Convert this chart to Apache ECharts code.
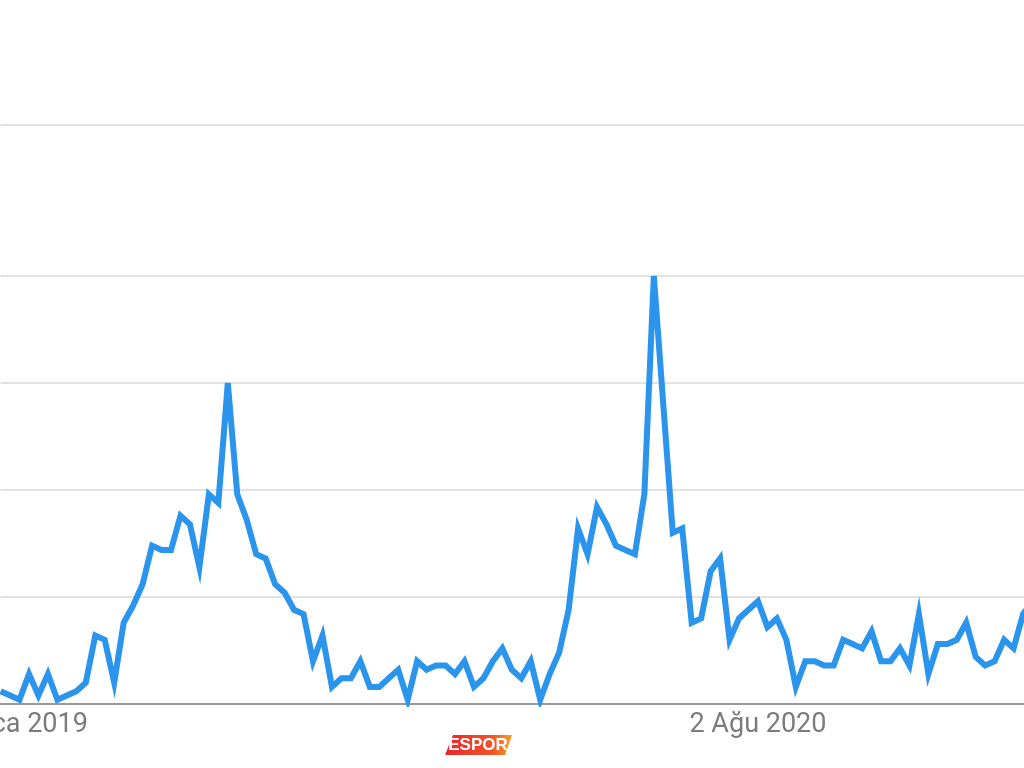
<!DOCTYPE html>
<html>
<head>
<meta charset="utf-8">
<script src="https://cdn.jsdelivr.net/npm/echarts@6/dist/echarts.min.js"></script>
<style>
  html, body { margin: 0; padding: 0; background: #ffffff; }
  #chart { width: 1024px; height: 768px; }
</style>
</head>
<body>
<div id="chart"></div>
<script>
// Weekly search interest (Google Trends style, 0-100)
const interest = [
  3, 2, 1, 7, 2, 7, 1, 2, 3, 5,
  16, 15, 5, 19, 23, 28, 37, 36, 36, 44,
  42, 32, 49, 47, 75, 49, 43, 35, 34, 28,
  26, 22, 21, 10, 16, 4, 6, 6, 10, 4,
  4, 6, 8, 1, 10, 8, 9, 9, 7, 10,
  4, 6, 10, 13, 8, 6, 10, 1, 7, 12,
  22, 41, 35, 46, 42, 37, 36, 35, 49, 100,
  70, 40, 41, 19, 20, 31, 34, 15, 20, 22,
  24, 18, 20, 15, 4, 10, 10, 9, 9, 15,
  14, 13, 17, 10, 10, 13, 9, 21, 7, 14,
  14, 15, 19, 11, 9, 10, 15, 13, 21, 24
];
// x-axis tick labels and the week index they sit under
const tickLabels = ['6 Oca 2019', '2 Ağu 2020'];
const tickIndex = [2, 80];
// horizontal guide lines (value units)
const guideValues = [25, 50, 75, 100, 135.3];

const categories = interest.map((v, i) => {
  const k = tickIndex.indexOf(i);
  return k >= 0 ? tickLabels[k] : '';
});

const chart = echarts.init(document.getElementById('chart'), null, { renderer: 'canvas' });
const step = 9.467;
chart.setOption({
  animation: false,
  backgroundColor: '#ffffff',
  grid: {
    left: 0.6, top: 0, width: step * (interest.length - 1), height: 704,
    containLabel: false, outerBoundsMode: 'none'
  },
  xAxis: {
    type: 'category',
    data: categories,
    boundaryGap: false,
    axisLine: { show: true, lineStyle: { color: '#9a9a9a', width: 2 } },
    axisTick: { show: false },
    splitLine: { show: false },
    axisLabel: {
      interval: (i) => tickIndex.includes(i),
      color: '#7b7b7b',
      fontFamily: 'Roboto',
      fontSize: 27,
      margin: 8,
      showMinLabel: true,
      hideOverlap: false
    }
  },
  yAxis: {
    type: 'value',
    min: 0,
    max: 164.5,
    show: true,
    axisLine: { show: false },
    axisTick: { show: false },
    axisLabel: { show: false },
    splitLine: { show: false }
  },
  series: [
    {
      type: 'line',
      data: interest.map(() => null),
      silent: true,
      z: 1,
      showSymbol: false,
      lineStyle: { opacity: 0 },
      markLine: {
        silent: true,
        z: 1,
        symbol: ['none', 'none'],
        label: { show: false },
        lineStyle: { color: '#e2e2e2', width: 2, type: 'solid' },
        data: guideValues.map(v => ({ yAxis: v }))
      }
    },
    {
      type: 'line',
      data: interest,
      z: 3,
      showSymbol: false,
      smooth: false,
      lineStyle: { color: '#2b94ec', width: 6, join: 'miter', cap: 'butt' }
    }
  ],
  graphic: [
    {
      type: 'polygon',
      shape: { points: [[445, 755], [453, 735], [512, 735], [505, 755]] },
      style: {
        fill: new echarts.graphic.LinearGradient(0, 0, 1, 0, [
          { offset: 0, color: '#e8262b' },
          { offset: 0.7, color: '#f0532a' },
          { offset: 1, color: '#f7a21c' }
        ])
      }
    },
    {
      type: 'text',
      x: 478,
      y: 745,
      style: {
        text: 'ESPOR',
        fill: '#ffffff',
        font: 'bold 17px "Liberation Sans"',
        align: 'center',
        verticalAlign: 'middle'
      }
    }
  ]
});
</script>
</body>
</html>
